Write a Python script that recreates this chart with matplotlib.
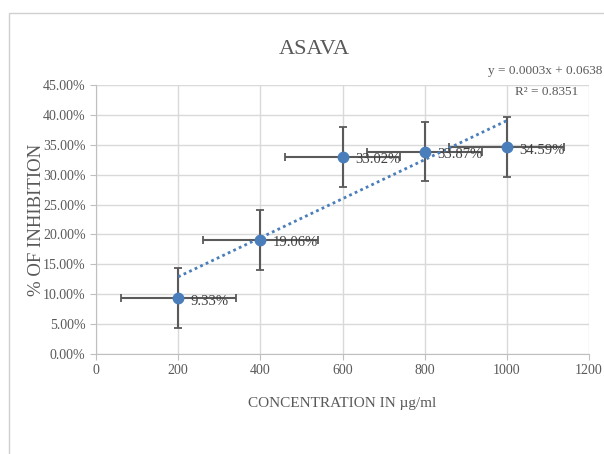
import numpy as np
import matplotlib
matplotlib.use("Agg")
import matplotlib.pyplot as plt
from matplotlib.ticker import FuncFormatter
from matplotlib.patches import Rectangle

concentration = [200, 400, 600, 800, 1000]
inhibition = [0.0933, 0.1906, 0.3302, 0.3387, 0.3459]
labels = ["9.33%", "19.06%", "33.02%", "33.87%", "34.59%"]
y_err = [0.05, 0.05, 0.05, 0.05, 0.05]
x_err = [140, 140, 140, 140, 140]
x_ticks = [0, 200, 400, 600, 800, 1000, 1200]
y_ticks = [0.0, 0.05, 0.10, 0.15, 0.20, 0.25, 0.30, 0.35, 0.40, 0.45]

plt.rcParams['font.family'] = ['Liberation Serif', 'DejaVu Serif']

fig = plt.figure(figsize=(6.04, 4.54), dpi=100)
fig.patch.set_facecolor('white')
# outer chart border
fig.add_artist(Rectangle((9/604, -0.05), 1.2, 1 - 13/454 + 0.05, transform=fig.transFigure,
                         fill=False, edgecolor='#d0d0d0', linewidth=1.0))

ax = fig.add_axes([96/604, 1 - 354/454, (589 - 96)/604, (354 - 85)/454])

grid_c = '#d9d9d9'
text_c = '#595959'

ax.set_xlim(0, 1200)
ax.set_ylim(0, 0.45)
ax.set_xticks(x_ticks)
ax.set_yticks(y_ticks)
ax.yaxis.set_major_formatter(FuncFormatter(lambda v, p: f"{v*100:.2f}%"))
ax.grid(True, color=grid_c, linewidth=1.0)
ax.set_axisbelow(True)
for s in ['top', 'right']:
    ax.spines[s].set_visible(False)
for s in ['left', 'bottom']:
    ax.spines[s].set_color('#bfbfbf')
ax.tick_params(axis='both', colors='#bfbfbf', labelcolor=text_c, labelsize=10, length=4)

ax.errorbar(concentration, inhibition, yerr=y_err, xerr=x_err, fmt='none',
            ecolor='#5a5a5a', elinewidth=1.5, capsize=3, capthick=1.3, zorder=2)
ax.plot(concentration, inhibition, 'o', color='#4a7ebb', markersize=7.5, zorder=3)

for x, y, lab in zip(concentration, inhibition, labels):
    ax.annotate(lab, (x, y), xytext=(9, -2), textcoords='offset points',
                va='center', ha='left', fontsize=10.5, color='#404040', zorder=4)

# linear trendline
coef = np.polyfit(concentration, inhibition, 1)
xs = np.array([min(concentration), max(concentration)])
ax.plot(xs, np.polyval(coef, xs), linestyle=(0, (1, 1.2)), color='#4a7ebb', linewidth=2, zorder=2.5)

r = np.corrcoef(concentration, inhibition)[0, 1]
fig.text(545/604, 1 - 71/454, f"y = {coef[0]:.4f}x + {coef[1]:.4f}", ha='center', va='center',
         fontsize=9.5, color=text_c)
fig.text(547/604, 1 - 92/454, f"R\u00b2 = {r**2:.4f}", ha='center', va='center',
         fontsize=9.5, color=text_c)

fig.text(314/604, 1 - 50/454, "ASAVA", ha='center', va='center', fontsize=16, color=text_c)
ax.set_xlabel("CONCENTRATION IN µg/ml", fontsize=11, color=text_c)
ax.xaxis.set_label_coords(0.5, (354 - 397) / (354 - 85))
ax.set_ylabel("% OF INHIBITION", fontsize=13.5, color=text_c, va='center')
ax.yaxis.set_label_coords((37 - 96) / (589 - 96), 0.5)

fig.savefig("out.png", dpi=100, facecolor='white')
